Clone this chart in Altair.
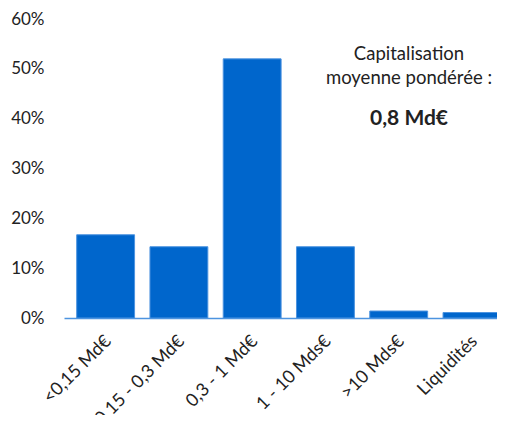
import altair as alt
import pandas as pd
import json

categories = ["<0,15 Md€", "0,15 - 0,3 Md€", "0,3 - 1 Md€", "1 - 10 Mds€", ">10 Mds€", "Liquidités"]
values = [0.167, 0.143, 0.520, 0.143, 0.014, 0.011]

note_line1 = "Capitalisation"
note_line2 = "moyenne pondérée :"
note_value = "0,8 Md€"

df = pd.DataFrame({"cat": categories, "val": values, "idx": list(range(len(categories)))})
FONT = "Lato"
HALF = 0.395  # half bar width in band units

label_expr = json.dumps(categories, ensure_ascii=False) + "[datum.value]"

bars = alt.Chart(df).transform_calculate(
    lo=f"datum.idx - {HALF}", hi=f"datum.idx + {HALF}"
).mark_bar(color="#0066CC", stroke="#4d94e0", strokeWidth=1, clip=True,
           orient="vertical").encode(
    x=alt.X("lo:Q", scale=alt.Scale(domain=[-0.5, 5.2733], nice=False, zero=False),
            axis=alt.Axis(title=None, values=list(range(len(categories))), labelExpr=label_expr,
                          labelAngle=-45, labelAlign="right", labelBaseline="top",
                          labelFont=FONT, labelFontSize=18,
                          labelColor="#222222", ticks=False, grid=False, domainColor="#4d94e0",
                          domainWidth=1.5, labelPadding=14, labelOffset=-4, labelLimit=200,
                          labelOverlap=False, labelFlush=False)),
    x2="hi:Q",
    y=alt.Y("val:Q", scale=alt.Scale(domain=[0, 0.6], nice=False, padding=0),
            axis=alt.Axis(title=None, format=".0%", values=[0, 0.1, 0.2, 0.3, 0.4, 0.5, 0.6],
                          grid=False, domain=False, ticks=False, labelFont=FONT,
                          labelFontSize=17, labelColor="#222222", labelPadding=20)),
    y2=alt.datum(0),
)

def note(text, y, size, weight="normal"):
    return alt.Chart(pd.DataFrame({"t": [text]})).mark_text(
        font=FONT, fontSize=size, fontWeight=weight, color="#222222",
        baseline="alphabetic").encode(
        text="t:N", x=alt.value(345), y=alt.value(y))

chart = alt.layer(
    bars,
    note(note_line1, 41, 18.5),
    note(note_line2, 65, 18.5),
    note(note_value, 106, 21, "bold"),
).properties(
    width=433, height=299,
    autosize=alt.AutoSizeParams(type="none"),
    padding={"left": 56, "top": 11, "right": 0, "bottom": 97},
).configure_view(stroke=None)

chart.save("out.html", embed_options={"renderer": "svg", "actions": False})
